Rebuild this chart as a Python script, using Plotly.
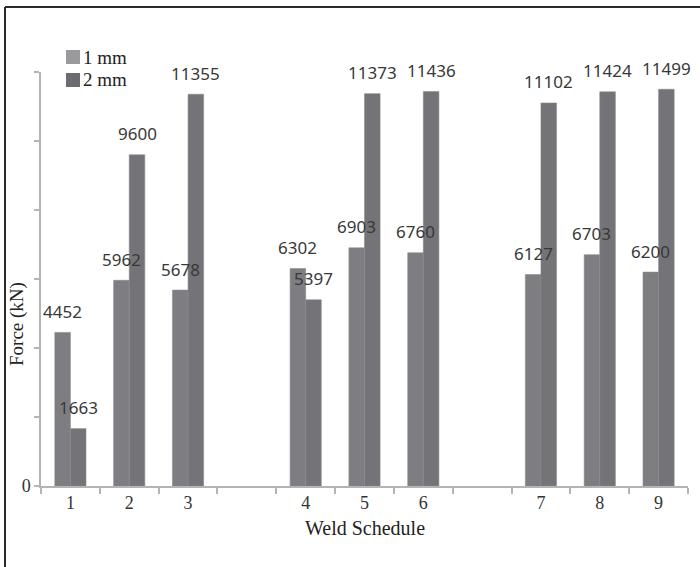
import plotly.graph_objects as go

# Weld schedules, grouped in threes with an empty slot between groups
schedules = ["1", "2", "3", "4", "5", "6", "7", "8", "9"]
category_order = ["1", "2", "3", " ", "4", "5", "6", "  ", "7", "8", "9"]

series_names = ["1 mm", "2 mm"]
force_1mm = [4452, 5962, 5678, 6302, 6903, 6760, 6127, 6703, 6200]
force_2mm = [1663, 9600, 11355, 5397, 11373, 11436, 11102, 11424, 11499]

y_ticks = [0, 2000, 4000, 6000, 8000, 10000, 12000]
y_ticktext = ["0", "", "", "", "", "", ""]

bar_colors = ["#7e7e82", "#747478"]
legend_colors = ["#9a9a9d", "#6c6c70"]

BARGAP = 0.47
bar_w = (1 - BARGAP) / 2

# page geometry (pixels) used to place paper-referenced decorations
W, H = 700, 567
ML, MR, MT, MB = 41, 12, 72, 81
PW, PH = W - ML - MR, H - MT - MB


def px_x(px):
    return (px - ML) / PW


def px_y(py):
    return (H - MB - py) / PH


fig = go.Figure()
for name, vals, col in zip(series_names, [force_1mm, force_2mm], bar_colors):
    fig.add_trace(go.Bar(
        x=schedules, y=vals, name=name,
        marker=dict(color=col, line=dict(color="#8a8a8e", width=0.6)),
        showlegend=False,
    ))

annotations = []
# value labels above each bar
for k, vals in enumerate([force_1mm, force_2mm]):
    off = (-0.5 + k) * bar_w
    for s, v in zip(schedules, vals):
        idx = category_order.index(s)
        annotations.append(dict(
            x=idx + off, y=v, xref="x", yref="y",
            text=str(v), showarrow=False,
            yanchor="middle", xanchor="center", yshift=21,
            font=dict(family="Noto Sans, sans-serif", size=17, color="#383838"),
        ))

# axis titles
annotations.append(dict(
    x=0.5, y=px_y(528), xref="paper", yref="paper", text="Weld Schedule",
    showarrow=False, xanchor="center", yanchor="middle",
    font=dict(family="Liberation Serif, serif", size=20, color="#222222"),
))
annotations.append(dict(
    x=px_x(17), y=px_y(324), xref="paper", yref="paper", text="Force (kN)",
    showarrow=False, textangle=-90, xanchor="center", yanchor="middle",
    font=dict(family="Liberation Serif, serif", size=19, color="#222222"),
))

shapes = []
# legend
for i, (name, col) in enumerate(zip(series_names, legend_colors)):
    top = 50 + i * 23
    shapes.append(dict(
        type="rect", xref="paper", yref="paper",
        x0=px_x(66), x1=px_x(80), y0=px_y(top), y1=px_y(top + 14),
        fillcolor=col, line=dict(width=0),
    ))
    annotations.append(dict(
        x=px_x(81), y=px_y(top + 7), xref="paper", yref="paper", text=name,
        showarrow=False, xanchor="left", yanchor="middle",
        font=dict(family="Liberation Serif, serif", size=19, color="#222222"),
    ))

# outer frame (top and left edges)
shapes.append(dict(type="line", xref="paper", yref="paper",
                   x0=px_x(5), x1=px_x(702), y0=px_y(7), y1=px_y(7),
                   line=dict(color="#2a2a2a", width=2)))
shapes.append(dict(type="line", xref="paper", yref="paper",
                   x0=px_x(5), x1=px_x(5), y0=px_y(7), y1=px_y(570),
                   line=dict(color="#2a2a2a", width=2)))

fig.update_layout(
    width=W, height=H,
    margin=dict(l=ML, r=MR, t=MT, b=MB, pad=0),
    paper_bgcolor="white", plot_bgcolor="white",
    barmode="group", bargap=BARGAP, bargroupgap=0,
    annotations=annotations, shapes=shapes,
    xaxis=dict(
        type="category", categoryorder="array", categoryarray=category_order,
        range=[-0.5, len(category_order) - 0.5],
        tickson="boundaries", ticks="outside", ticklen=6, tickwidth=1.5,
        tickcolor="#b4b4b4", showline=True, linecolor="#b4b4b4", linewidth=1.5,
        showgrid=False, zeroline=False,
        tickfont=dict(family="Liberation Serif, serif", size=18, color="#333333"),
    ),
    yaxis=dict(
        range=[0, 12000], tickvals=y_ticks, ticktext=y_ticktext,
        ticks="outside", ticklen=5, tickwidth=1.5, tickcolor="#b4b4b4",
        showline=True, linecolor="#b4b4b4", linewidth=1.5,
        showgrid=False, zeroline=False,
        tickfont=dict(family="Liberation Serif, serif", size=18, color="#333333"),
    ),
)

fig.write_html("out.html")
